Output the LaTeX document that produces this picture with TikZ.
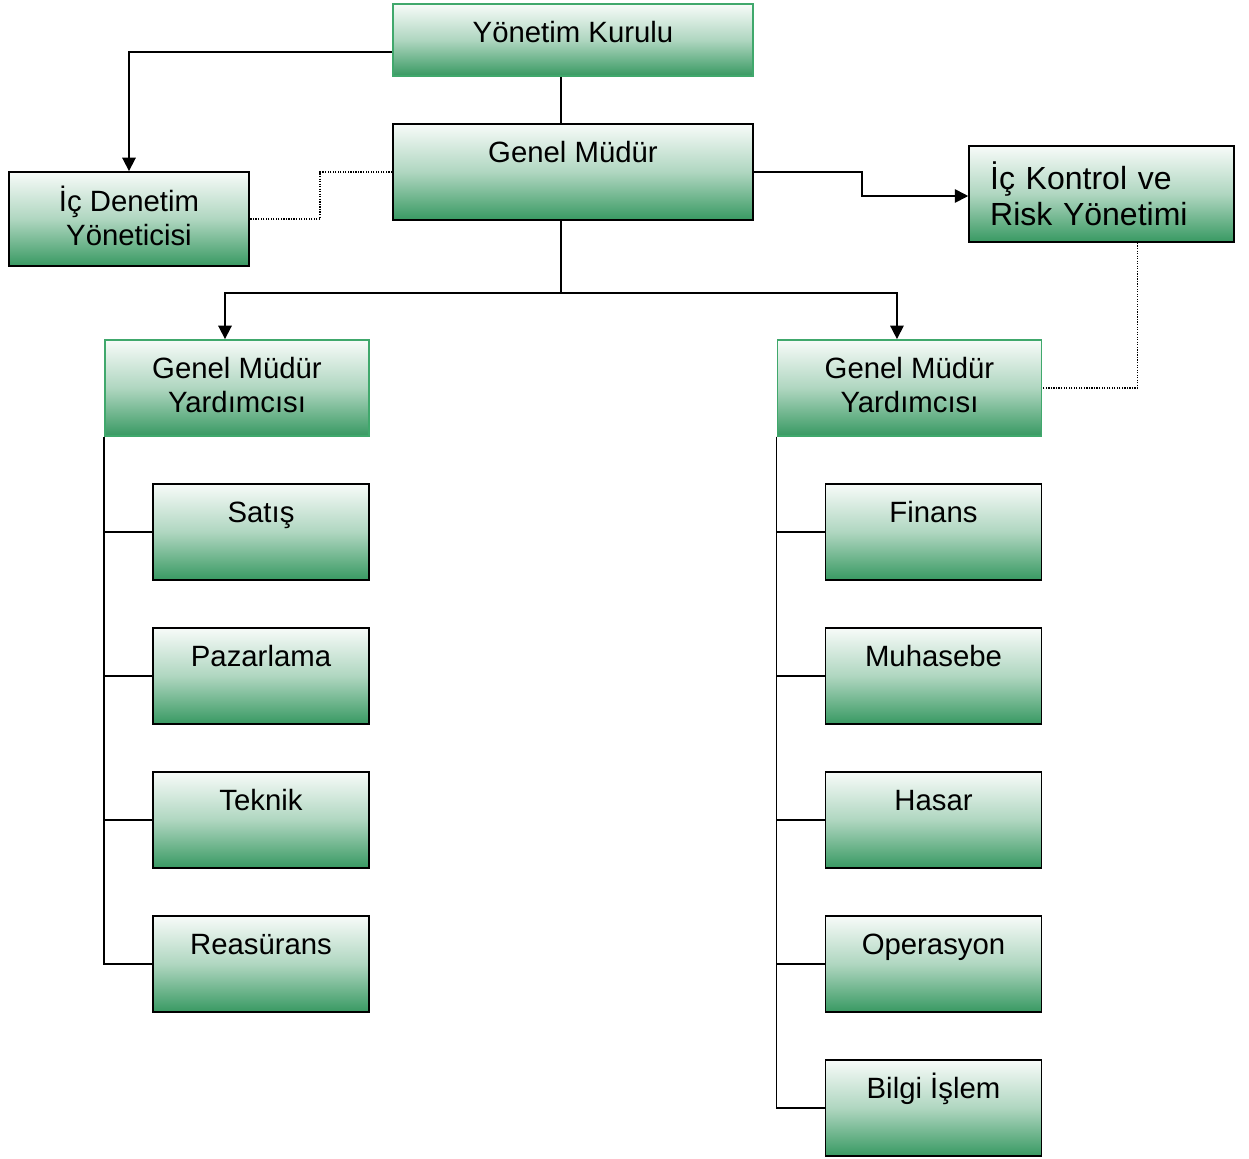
\documentclass[tikz,border=0pt]{standalone}
\usepackage{fontspec}
\setmainfont{Liberation Sans}
\usetikzlibrary{arrows.meta}
\definecolor{boxgreen}{RGB}{56,153,98}
\definecolor{edgegreen}{RGB}{64,168,108}
\begin{document}
\begin{tikzpicture}[x=0.75pt, y=-0.75pt,
   unit/.style={rectangle, draw=black, line width=1.4pt, top color=white!96!boxgreen,
      bottom color=boxgreen, middle color=boxgreen!40!white, inner sep=0pt,
      font=\fontsize{22}{25.5}\selectfont, align=center},
   greenedge/.style={draw=edgegreen},
   oneline/.style={text height=16pt, text depth=30.2pt},
   twoline/.style={text depth=4.5pt},
   dept/.style={unit, oneline, minimum width=162pt, minimum height=72pt},
   link/.style={line width=1.3pt},
   arr/.style={link, -{Triangle[length=10pt,width=10pt]}},
   dots/.style={densely dotted, line width=0.9pt}]
   \useasboundingbox (0,0) rectangle (1249,1158);
   % top of the chart
   \node[unit, greenedge, text height=16pt, text depth=12.2pt, minimum width=270pt, minimum height=54pt] (kurul) at (573,40) {Yönetim Kurulu};
   \node[unit, oneline, minimum width=270pt, minimum height=72pt] (gm) at (573,172) {Genel Müdür};
   \node[unit, twoline, minimum width=180pt, minimum height=70.5pt] (denetim) at (129,219) {İç Denetim\\Yöneticisi};
   \node[unit, align=left, text width=167pt, inner xsep=15.75pt, minimum height=72pt,
      font=\fontsize{24}{27}\selectfont] (kontrol) at (1101.5,194) {İç Kontrol ve\\Risk Yönetimi};
   \node[unit, twoline, greenedge, minimum width=198pt, minimum height=72pt] (gmyl) at (237,388) {Genel Müdür\\Yardımcısı};
   \node[unit, twoline, greenedge, minimum width=198pt, minimum height=72pt] (gmyr) at (909.5,388) {Genel Müdür\\Yardımcısı};
   % departments
   \node[dept] (satis) at (261,532) {Satış};
   \node[dept] (pazar) at (261,676) {Pazarlama};
   \node[dept] (teknik) at (261,820) {Teknik};
   \node[dept] (reas) at (261,964) {Reasürans};
   \node[dept] (finans) at (933.5,532) {Finans};
   \node[dept] (muhas) at (933.5,676) {Muhasebe};
   \node[dept] (hasar) at (933.5,820) {Hasar};
   \node[dept] (oper) at (933.5,964) {Operasyon};
   \node[dept] (bilgi) at (933.5,1108) {Bilgi İşlem};
   % connectors
   \draw[arr] ([yshift=-9pt]kurul.west) -| (denetim.north);
   \draw[link] ([xshift=-9pt]kurul.south) -- ([xshift=-9pt]gm.north);
   \draw[link] ([xshift=-9pt]gm.south) -- ++(0,72) coordinate (split);
   \draw[arr] (split) -| ([xshift=-9pt]gmyl.north);
   \draw[arr] (split) -| ([xshift=-9.4pt]gmyr.north);
   \draw[arr] (gm.east) -- ++(108,0) |- ([yshift=-1.5pt]kontrol.west);
   \draw[dots] (gm.west) -- ++(-72,0) |- (denetim.east);
   \draw[dots] ([xshift=27pt]kontrol.south) |- (gmyr.east);
   \foreach \d in {satis,pazar,teknik,reas}
      \draw[link] (gmyl.south west) |- (\d.west);
   \foreach \d in {finans,muhas,hasar,oper,bilgi}
      \draw[link] (gmyr.south west) |- (\d.west);
\end{tikzpicture}
\end{document}
